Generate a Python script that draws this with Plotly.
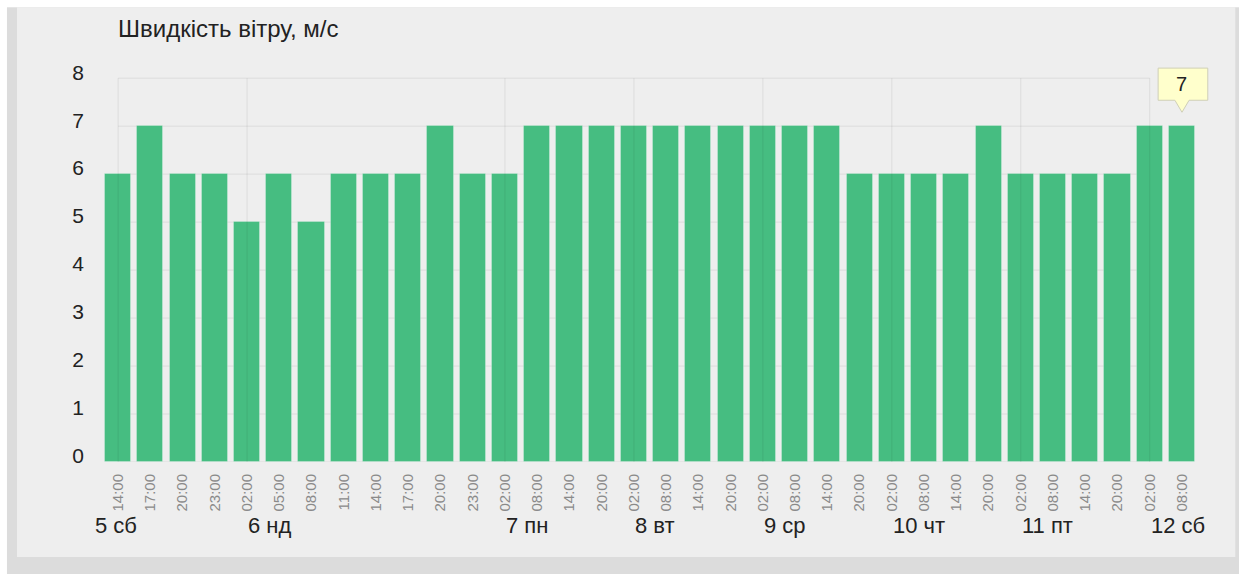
import plotly.graph_objects as go

TITLE = "Швидкість вітру, м/с"

hours = [
    "14:00", "17:00", "20:00", "23:00", "02:00", "05:00", "08:00", "11:00",
    "14:00", "17:00", "20:00", "23:00", "02:00", "08:00", "14:00", "20:00",
    "02:00", "08:00", "14:00", "20:00", "02:00", "08:00", "14:00", "20:00",
    "02:00", "08:00", "14:00", "20:00", "02:00", "08:00", "14:00", "20:00",
    "02:00", "08:00",
]
wind = [
    6, 7, 6, 6, 5, 6, 5, 6, 6, 6, 7, 6, 6, 7, 7, 7, 7,
    7, 7, 7, 7, 7, 7, 6, 6, 6, 6, 7, 6, 6, 6, 6, 7, 7,
]
day_pos = [0, 4, 12, 16, 20, 24, 28, 32]
day_text = ["5 сб", "6 нд", "7 пн", "8 вт", "9 ср", "10 чт", "11 пт", "12 сб"]
y_ticks = [0, 1, 2, 3, 4, 5, 6, 7, 8]

W, H = 1239, 574
PX_PER_X = 32.23
PX_PER_Y = 48
X_LO, X_HI = -0.5, 33.9
Y_TOP = 8.9
ML = 102
MB = 112
PLOT_W = (X_HI - X_LO) * PX_PER_X
PLOT_H = Y_TOP * PX_PER_Y
MR = W - ML - PLOT_W
MT = H - MB - PLOT_H

BAR_COLOR = "#46bd81"
GRID = "rgba(0,0,0,0.075)"
FONT = "Liberation Sans, Arial, sans-serif"


def px_x(p):
    return (p - ML) / PLOT_W


def px_y(p):
    return (H - MB - p) / PLOT_H


x = list(range(len(wind)))
fig = go.Figure(
    go.Bar(
        x=x,
        y=wind,
        width=0.81,
        marker=dict(color=BAR_COLOR, line=dict(color="rgba(255,255,255,0.25)", width=1)),
        hoverinfo="skip",
    )
)

shapes = [
    # panel frame
    dict(type="rect", xref="paper", yref="paper", x0=px_x(7), x1=px_x(W + 5),
         y0=px_y(H + 5), y1=px_y(7), fillcolor="#dcdcdc", line_width=0, layer="below"),
    dict(type="rect", xref="paper", yref="paper", x0=px_x(17), x1=px_x(1235),
         y0=px_y(557), y1=px_y(7), fillcolor="#eeeeee", line_width=0, layer="below"),
]
first, last = day_pos[0], day_pos[-1]
for v in y_ticks:
    shapes.append(dict(type="line", xref="x", yref="y", x0=first, x1=last, y0=v, y1=v,
                       line=dict(color=GRID, width=1), layer="below"))
for d in day_pos:
    shapes.append(dict(type="line", xref="x", yref="y", x0=d, x1=d, y0=-0.17, y1=y_ticks[-1],
                       line=dict(color=GRID, width=1), layer="above"))

# tooltip over the last bar
lx, lv = x[-1], wind[-1]
tip = (f"M {lx},{lv + 0.29} L {lx - 0.22},{lv + 0.54} L {lx - 0.74},{lv + 0.54} "
       f"L {lx - 0.74},{lv + 1.21} L {lx + 0.8},{lv + 1.21} L {lx + 0.8},{lv + 0.54} "
       f"L {lx + 0.22},{lv + 0.54} Z")
shapes.append(dict(type="path", xref="x", yref="y", path=tip, fillcolor="#ffffcc",
                   line=dict(color="#cfcfb8", width=1), layer="above"))

annotations = [
    dict(text=TITLE, xref="x", yref="paper", x=first, y=px_y(28), xanchor="left",
         yanchor="middle", showarrow=False, xshift=-2, font=dict(size=24, color="#222")),
    dict(text=str(lv), xref="x", yref="y", x=lx, y=lv + 0.875, showarrow=False,
         font=dict(size=20, color="#222")),
]
for i, (p, t) in enumerate(zip(day_pos, day_text)):
    annotations.append(dict(
        text=t, xref="x", yref="paper", x=p, y=px_y(526), showarrow=False,
        xanchor="center" if i == 0 else "left", yanchor="middle",
        xshift=-2 if i == 0 else -1, font=dict(size=22, color="#222"),
    ))

fig.update_layout(
    width=W,
    height=H,
    margin=dict(l=ML, r=MR, t=MT, b=MB, pad=0),
    paper_bgcolor="white",
    plot_bgcolor="rgba(0,0,0,0)",
    font=dict(family=FONT),
    showlegend=False,
    bargap=0,
    shapes=shapes,
    annotations=annotations,
    xaxis=dict(
        range=[X_LO, X_HI],
        tickvals=x,
        ticktext=hours,
        tickangle=-90,
        tickfont=dict(size=15, color="#8a8a8a"),
        showgrid=False,
        zeroline=False,
        showline=False,
        ticks="",
        ticklabelstandoff=8,
        fixedrange=True,
    ),
    yaxis=dict(
        range=[0, Y_TOP],
        tickvals=y_ticks,
        tickfont=dict(size=21, color="#222"),
        showgrid=False,
        zeroline=False,
        showline=False,
        ticks="",
        ticklabelstandoff=17,
        ticklabelshift=-6,
        fixedrange=True,
    ),
)

fig.write_html(
    "out.html",
    config={"displayModeBar": False},
    post_script="document.body.style.margin='0';",
)
